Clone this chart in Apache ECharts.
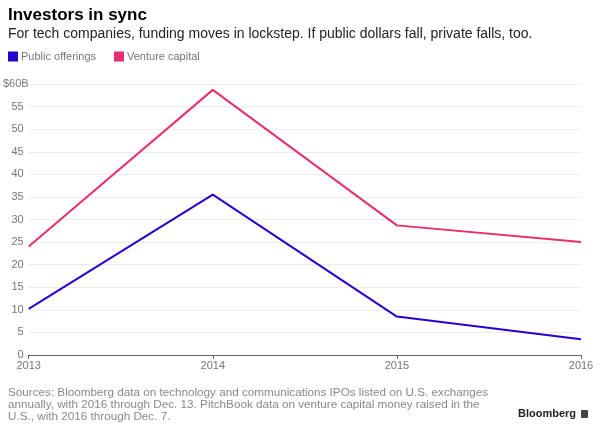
<!DOCTYPE html>
<html><head><meta charset="utf-8">
<script src="https://cdn.jsdelivr.net/npm/echarts@6/dist/echarts.min.js"></script>
<style>html,body{margin:0;padding:0;background:#fff}#c{width:600px;height:430px}</style>
</head><body><div id="c"></div>
<script>
const years = ['2013','2014','2015','2016'];
const publicOfferings = [10.2, 35.5, 8.5, 3.5];
const ventureCapital = [24.0, 58.7, 28.7, 25.0];
const title = 'Investors in sync';
const subtitle = 'For tech companies, funding moves in lockstep. If public dollars fall, private falls, too.';
const source = 'Sources: Bloomberg data on technology and communications IPOs listed on U.S. exchanges\nannually, with 2016 through Dec. 13. PitchBook data on venture capital money raised in the\nU.S., with 2016 through Dec. 7.';
const BLUE = '#2a00cf', PINK = '#e6306c';
const FONT = 'Liberation Sans, Arial, sans-serif';

const chart = echarts.init(document.getElementById('c'));
chart.setOption({
  animation: false,
  textStyle: {fontFamily: FONT},
  title: [
    {text: title, left: 8, top: 6, padding: 0, textStyle: {fontSize: 17, lineHeight: 18, fontWeight: 'bold', color: '#000', fontFamily: FONT}},
    {text: subtitle, left: 8, top: 27, padding: 0, textStyle: {fontSize: 14, lineHeight: 15, fontWeight: 'normal', color: '#222', fontFamily: FONT}},
    {text: source, left: 8, top: 387, padding: 0, textStyle: {fontSize: 11.7, lineHeight: 11.8, fontWeight: 'normal', color: '#888', fontFamily: FONT}},
    {text: 'Bloomberg', left: 518, top: 408, padding: 0, textStyle: {fontSize: 11, lineHeight: 12, fontWeight: 'bold', color: '#222', fontFamily: FONT}}
  ],
  graphic: [
    {type: 'rect', left: 581, top: 410, shape: {width: 7, height: 8, r: 1}, style: {fill: '#444'}}
  ],
  legend: {
    left: 8, top: 51, padding: 0, itemWidth: 10, itemHeight: 10, itemGap: 18,
    icon: 'rect',
    textStyle: {fontSize: 11, color: '#777', padding: [0,0,0,-2]},
    data: ['Public offerings', 'Venture capital']
  },
  grid: {left: 28, right: 19, top: 84, bottom: 75, containLabel: false},
  xAxis: {
    type: 'category', data: years, boundaryGap: false,
    axisLine: {lineStyle: {color: '#666', width: 1}},
    axisTick: {show: true, length: 4, lineStyle: {color: '#666'}, alignWithLabel: true},
    axisLabel: {color: '#777', fontSize: 11, margin: 5, fontFamily: FONT},
    splitLine: {show: false}
  },
  yAxis: {
    type: 'value', min: 0, max: 60, interval: 5,
    axisLine: {show: false}, axisTick: {show: false},
    splitLine: {lineStyle: {color: '#ececec', width: 1}},
    axisLabel: {
      margin: 0, align: 'right', fontFamily: FONT,
      formatter: v => v === 60 ? '{t|$60B}' : '{n|' + v + '}',
      rich: {
        n: {color: '#777', fontSize: 11, padding: [0,5,0,0], fontFamily: FONT},
        t: {color: '#777', fontSize: 11, padding: [0,0,0,0], fontFamily: FONT}
      }
    }
  },
  series: [
    {name: 'Public offerings', type: 'line', data: publicOfferings, symbol: 'none',
     lineStyle: {color: BLUE, width: 2}, itemStyle: {color: BLUE}},
    {name: 'Venture capital', type: 'line', data: ventureCapital, symbol: 'none',
     lineStyle: {color: PINK, width: 2}, itemStyle: {color: PINK}}
  ]
});
</script></body></html>
